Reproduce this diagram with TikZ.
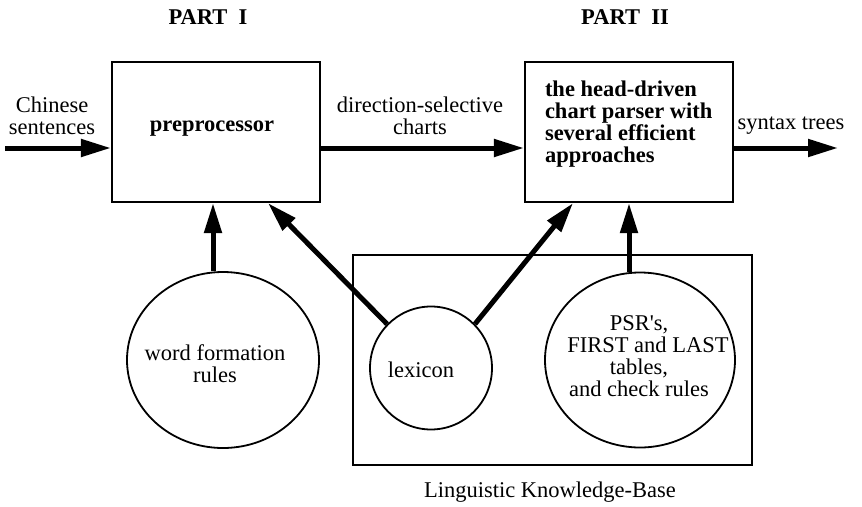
\documentclass[tikz,border=0pt]{standalone}
\usepackage{fontspec}
\setmainfont{Liberation Serif}
\usetikzlibrary{arrows.meta,shapes.geometric}
\begin{document}
\begin{tikzpicture}[x=1pt,y=-1pt,
  txt/.style={font=\fontsize{22.5}{22}\selectfont, inner sep=0pt, outer sep=0pt},
  btxt/.style={font=\fontsize{22.5}{22}\selectfont\bfseries, inner sep=0pt, outer sep=0pt},
  procbox/.style={draw, line width=2.2pt, minimum width=208pt, minimum height=140pt, inner sep=0pt},
  kbbox/.style={draw, line width=2pt, minimum width=399pt, minimum height=210pt, inner sep=0pt},
  kbell/.style={draw, ellipse, line width=1.8pt, inner sep=0pt},
  arr/.style={line width=5pt, -{Triangle[length=30pt,width=17pt]}},
]
\fill[white] (0,0) rectangle (862,506);
\useasboundingbox (0,0) rectangle (862,506);

% headings
\node[btxt, anchor=base] (p1) at (208,24) {PART~~I};
\node[btxt, anchor=base] (p2) at (625,24) {PART~~II};

% processing boxes
\node[procbox] (pre) at (216,132) {};
\node[procbox] (par) at (629,132) {};
\node[btxt, anchor=base] (pretxt) at (212,131) {preprocessor};
\node[btxt, align=left, anchor=north west] (partxt) at (545,80.5)
  {the head-driven\\chart parser with\\several efficient\\approaches};

% knowledge base
\node[kbbox] (kb) at (552.5,360) {};
\node[txt, anchor=base] (kbtxt) at (550,497) {Linguistic Knowledge-Base};

% ellipses
\node[kbell, minimum width=192pt, minimum height=176pt] (wf) at (223,360) {};
\node[txt, align=center, anchor=north] (wftxt) at (215,344.6) {word formation\\rules};
\node[kbell, minimum width=122pt, minimum height=123pt] (lex) at (431,368) {};
\node[txt, anchor=base] (lextxt) at (421,377) {lexicon};
\node[kbell, minimum width=190pt, minimum height=175pt] (psr) at (640,360) {};
\node[txt, align=center, anchor=north] (psrtxt) at (639,316)
  {PSR\textquotesingle s,\\\hspace*{18pt}FIRST and LAST\\tables,\hspace*{12pt}\\and check rules};

% edge labels
\node[txt, align=center, anchor=north] (intxt) at (52,97) {Chinese\\sentences};
\node[txt, align=center, anchor=north] (midtxt) at (420,96.5) {direction-selective\\charts};
\node[txt, anchor=base] (outtxt) at (791,129) {syntax trees};

% connectors
\coordinate (in) at (5,148);
\coordinate (out) at (838,148);
\draw[arr] (in) -- (in -| pre.west);
\draw[arr] ([yshift=-16pt]pre.east) -- ([yshift=-16pt]par.west);
\draw[arr] ([yshift=-16pt]par.east) -- (out);
\draw[arr] ([xshift=-10pt]wf.north) -- ([xshift=-10pt]wf.north |- pre.south);
\draw[arr] (lex.135) -- ([xshift=52pt]pre.south);
\draw[arr] (lex.45) -- ([xshift=-56pt]par.south);
\draw[arr] (psr.north -| par.south) -- (par.south);
\end{tikzpicture}
\end{document}
